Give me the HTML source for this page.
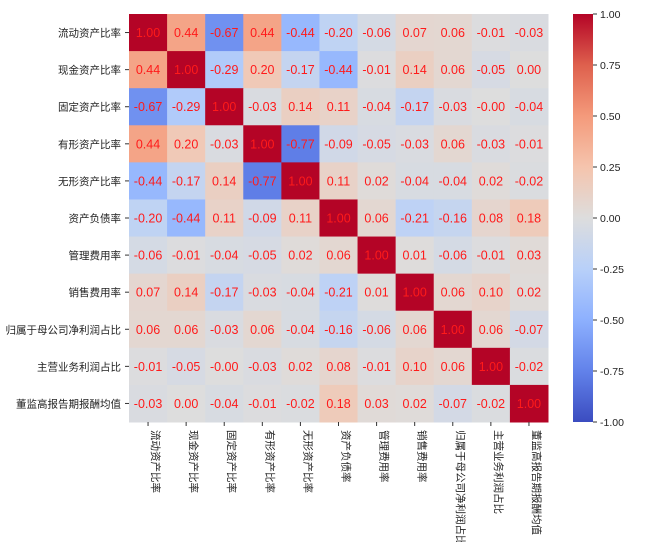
<!DOCTYPE html>
<html><head><meta charset="utf-8"><style>
body{margin:0;background:#fff;}
svg text{font-family:"Liberation Sans","Noto Sans CJK SC",sans-serif;}
</style></head><body>
<svg id="chart" width="653" height="542" xmlns="http://www.w3.org/2000/svg">
<defs><linearGradient id="cb" x1="0" y1="1" x2="0" y2="0">
<stop offset="0" stop-color="rgb(59,76,192)"/><stop offset="0.125" stop-color="rgb(98,130,234)"/>
<stop offset="0.25" stop-color="rgb(141,176,254)"/><stop offset="0.375" stop-color="rgb(184,208,249)"/>
<stop offset="0.5" stop-color="rgb(221,221,221)"/><stop offset="0.625" stop-color="rgb(245,196,173)"/>
<stop offset="0.75" stop-color="rgb(244,154,123)"/><stop offset="0.875" stop-color="rgb(222,96,77)"/>
<stop offset="1" stop-color="rgb(180,4,38)"/></linearGradient></defs>
<g id="cells"></g><g id="labels"></g>
<rect x="573" y="14" width="20" height="408" fill="url(#cb)"/>
<g id="cbticks"></g>
</svg>
<script>
const categories=["流动资产比率","现金资产比率","固定资产比率","有形资产比率","无形资产比率","资产负债率","管理费用率","销售费用率","归属于母公司净利润占比","主营业务利润占比","董监高报告期报酬均值"];
const values=[
[1.00,0.44,-0.67,0.44,-0.44,-0.20,-0.06,0.07,0.06,-0.01,-0.03],
[0.44,1.00,-0.29,0.20,-0.17,-0.44,-0.01,0.14,0.06,-0.05,0.00],
[-0.67,-0.29,1.00,-0.03,0.14,0.11,-0.04,-0.17,-0.03,-0.00,-0.04],
[0.44,0.20,-0.03,1.00,-0.77,-0.09,-0.05,-0.03,0.06,-0.03,-0.01],
[-0.44,-0.17,0.14,-0.77,1.00,0.11,0.02,-0.04,-0.04,0.02,-0.02],
[-0.20,-0.44,0.11,-0.09,0.11,1.00,0.06,-0.21,-0.16,0.08,0.18],
[-0.06,-0.01,-0.04,-0.05,0.02,0.06,1.00,0.01,-0.06,-0.01,0.03],
[0.07,0.14,-0.17,-0.03,-0.04,-0.21,0.01,1.00,0.06,0.10,0.02],
[0.06,0.06,-0.03,0.06,-0.04,-0.16,-0.06,0.06,1.00,0.06,-0.07],
[-0.01,-0.05,-0.00,-0.03,0.02,0.08,-0.01,0.10,0.06,1.00,-0.02],
[-0.03,0.00,-0.04,-0.01,-0.02,0.18,0.03,0.02,-0.07,-0.02,1.00]];
const cbTicks=[-1.00,-0.75,-0.50,-0.25,0.00,0.25,0.50,0.75,1.00];
const X0=129,Y0=14,W=419,H=408;
const n=categories.length,cw=W/n,ch=H/n;
const xPos=i=>X0+i*cw, yPos=i=>Y0+i*ch;
const cbY=v=>Y0+H-(v+1)/2*H;
const stops=[[59,76,192],[98,130,234],[141,176,254],[184,208,249],[221,221,221],[245,196,173],[244,154,123],[222,96,77],[180,4,38]];
function color(v){let t=(v+1)/2*8;let i=Math.min(7,Math.floor(t));let f=t-i;const a=stops[i],b=stops[i+1];
return `rgb(${a.map((c,k)=>Math.round(c+(b[k]-c)*f)).join(",")})`;}
const NS="http://www.w3.org/2000/svg";
function mk(tag,attrs,parent){const e=document.createElementNS(NS,tag);for(const k in attrs)e.setAttribute(k,attrs[k]);parent.appendChild(e);return e;}
const cells=document.getElementById("cells"),labels=document.getElementById("labels"),cbt=document.getElementById("cbticks");
const fmt=v=>((v===0&&1/v<0)?"-0.00":v.toFixed(2));
values.forEach((row,r)=>row.forEach((v,c)=>{
 const rect=mk("rect",{x:xPos(c),y:yPos(r),width:cw+0.5,height:ch+0.5,fill:color(v)},cells);
 
 
 const t=mk("text",{x:xPos(c)+cw/2,y:yPos(r)+ch/2+4.5,"text-anchor":"middle","font-size":"12.5",fill:"#ff1a1a"},cells);
 
 
 t.textContent=fmt(v);
}));
categories.forEach((c,i)=>{
 const t=mk("text",{x:X0-8,y:yPos(i)+ch/2+4,"text-anchor":"end","font-size":"10.5",fill:"#222"},labels);
 
 
 t.textContent=c;
 mk("line",{x1:X0-4,x2:X0,y1:yPos(i)+ch/2,y2:yPos(i)+ch/2,stroke:"#333"},labels);
 const cx=xPos(i)+cw/2;
 mk("line",{x1:cx,x2:cx,y1:Y0+H,y2:Y0+H+4,stroke:"#333"},labels);
 const ct=mk("text",{x:0,y:0,"text-anchor":"start","font-size":"10.5",fill:"#222",transform:`translate(${cx+4},${Y0+H+8}) rotate(90)`},labels);
 
 
 ct.textContent=c;
});
cbTicks.forEach(v=>{
 const y=cbY(v);
 mk("line",{x1:593,x2:597,y1:y,y2:y,stroke:"#333"},cbt);
 const t=mk("text",{x:600,y:y+4,"font-size":"10.5",fill:"#222"},cbt);
 
 
 t.textContent=v.toFixed(2);
});
</script>
</body></html>
